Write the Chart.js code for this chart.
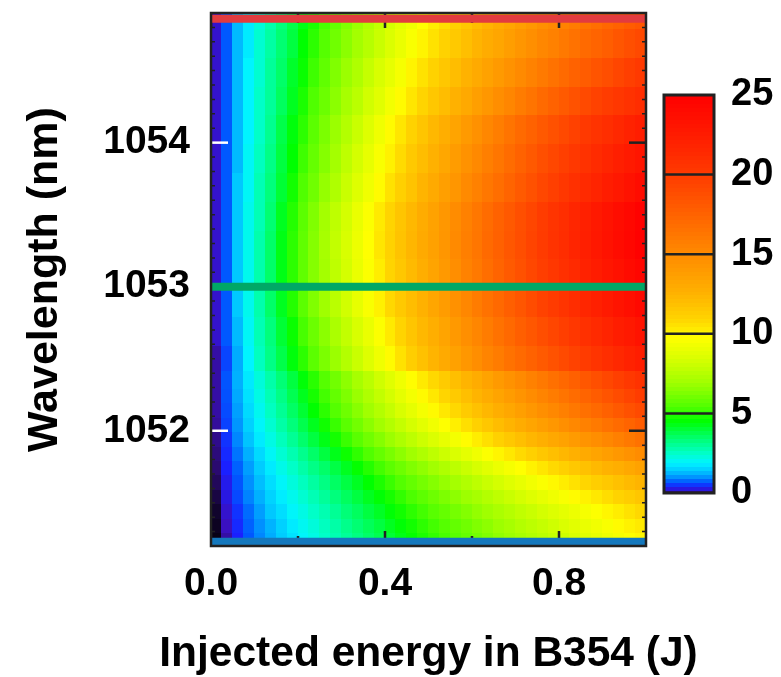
<!DOCTYPE html>
<html>
<head>
<meta charset="utf-8">
<script src="https://cdn.jsdelivr.net/npm/chart.js@4.4.1/dist/chart.umd.min.js"></script>
<style>
  html, body { margin: 0; padding: 0; background: #fff; }
  #wrap { position: relative; width: 781px; height: 677px; }
  #main { position: absolute; left: 0; top: 0; }
  #cbar { position: absolute; left: 640px; top: 60px; }
</style>
</head>
<body>
<div id="wrap">
  <canvas id="main" width="781" height="677"></canvas>
  <canvas id="cbar" width="141" height="470"></canvas>
</div>
<script>
// energia injetada (centro de cada coluna, J)
const energy = [0.0125, 0.0375, 0.0625, 0.0875, 0.1125, 0.1375, 0.1625, 0.1875, 0.2125, 0.2375,
  0.2625, 0.2875, 0.3125, 0.3375, 0.3625, 0.3875, 0.4125, 0.4375, 0.4625, 0.4875,
  0.5125, 0.5375, 0.5625, 0.5875, 0.6125, 0.6375, 0.6625, 0.6875, 0.7125, 0.7375,
  0.7625, 0.7875, 0.8125, 0.8375, 0.8625, 0.8875, 0.9125, 0.9375, 0.9625, 0.9875];

// comprimento de onda (centro de cada linha, nm), de baixo para cima
const wavelength = [1051.25, 1051.35, 1051.45, 1051.55, 1051.65, 1051.75, 1051.85, 1051.95, 1052.05, 1052.15,
  1052.25, 1052.35, 1052.5, 1052.7, 1052.9, 1053.1, 1053.3, 1053.5, 1053.7, 1053.9,
  1054.1, 1054.3, 1054.5, 1054.7, 1054.9];

// valores, uma linha por comprimento de onda
const signal = [
  [0.02, 0.2, 0.5, 0.8, 1.05, 1.3, 1.55, 1.8, 2.05, 2.3, 2.6, 2.85, 3.1, 3.35, 3.6, 3.85, 4.1, 4.4, 4.65, 4.9, 5.15, 5.4, 5.65, 5.9, 6.15, 6.4, 6.7, 6.95, 7.2, 7.45, 7.7, 7.95, 8.2, 8.5, 8.75, 9.0, 9.25, 9.5, 9.75, 10.0],
  [0.03, 0.25, 0.55, 0.85, 1.1, 1.35, 1.6, 1.9, 2.15, 2.4, 2.7, 2.95, 3.25, 3.5, 3.75, 4.0, 4.3, 4.55, 4.8, 5.1, 5.35, 5.6, 5.85, 6.1, 6.4, 6.65, 6.95, 7.2, 7.5, 7.75, 8.0, 8.25, 8.55, 8.85, 9.1, 9.35, 9.6, 9.9, 10.15, 10.4],
  [0.04, 0.3, 0.6, 0.9, 1.2, 1.5, 1.75, 2.05, 2.3, 2.6, 2.85, 3.15, 3.45, 3.7, 4.0, 4.25, 4.55, 4.8, 5.1, 5.35, 5.65, 5.9, 6.2, 6.45, 6.75, 7.0, 7.3, 7.55, 7.85, 8.1, 8.4, 8.65, 8.95, 9.2, 9.5, 9.75, 10.05, 10.3, 10.6, 10.9],
  [0.06, 0.38, 0.72, 1.03, 1.33, 1.62, 1.92, 2.2, 2.5, 2.8, 3.1, 3.4, 3.7, 4.0, 4.3, 4.55, 4.85, 5.15, 5.45, 5.75, 6.05, 6.35, 6.65, 6.95, 7.2, 7.5, 7.8, 8.1, 8.4, 8.7, 9.0, 9.3, 9.6, 9.9, 10.15, 10.45, 10.75, 11.05, 11.35, 11.65],
  [0.08, 0.42, 0.78, 1.1, 1.43, 1.75, 2.07, 2.38, 2.7, 3.02, 3.33, 3.65, 3.97, 4.28, 4.6, 4.92, 5.24, 5.55, 5.87, 6.19, 6.5, 6.82, 7.14, 7.46, 7.78, 8.1, 8.4, 8.72, 9.04, 9.36, 9.68, 10.0, 10.3, 10.6, 10.95, 11.27, 11.58, 11.9, 12.2, 12.5],
  [0.1, 0.5, 0.85, 1.2, 1.55, 1.9, 2.25, 2.6, 2.95, 3.3, 3.6, 3.95, 4.3, 4.65, 5.0, 5.35, 5.7, 6.05, 6.4, 6.7, 7.05, 7.4, 7.75, 8.1, 8.45, 8.8, 9.15, 9.5, 9.8, 10.15, 10.5, 10.85, 11.2, 11.55, 11.9, 12.25, 12.6, 12.9, 13.25, 13.6],
  [0.12, 0.55, 0.95, 1.33, 1.7, 2.1, 2.48, 2.85, 3.23, 3.6, 4.0, 4.37, 4.75, 5.13, 5.5, 5.9, 6.27, 6.65, 7.03, 7.4, 7.8, 8.17, 8.55, 8.93, 9.3, 9.7, 10.07, 10.45, 10.83, 11.2, 11.6, 11.97, 12.35, 12.73, 13.1, 13.5, 13.87, 14.25, 14.63, 15.0],
  [0.15, 0.6, 1.05, 1.47, 1.9, 2.3, 2.73, 3.15, 3.57, 4.0, 4.4, 4.83, 5.25, 5.67, 6.1, 6.5, 6.93, 7.35, 7.77, 8.2, 8.6, 9.03, 9.45, 9.87, 10.3, 10.7, 11.13, 11.55, 11.97, 12.4, 12.8, 13.23, 13.65, 14.07, 14.5, 14.9, 15.33, 15.75, 16.17, 16.6],
  [0.18, 0.68, 1.14, 1.6, 2.05, 2.5, 2.96, 3.41, 3.87, 4.32, 4.78, 5.23, 5.69, 6.14, 6.6, 7.05, 7.5, 7.96, 8.42, 8.87, 9.33, 9.78, 10.24, 10.7, 11.15, 11.6, 12.06, 12.5, 12.97, 13.42, 13.88, 14.33, 14.79, 15.24, 15.7, 16.15, 16.6, 17.06, 17.5, 17.97],
  [0.2, 0.73, 1.21, 1.7, 2.18, 2.67, 3.15, 3.64, 4.12, 4.6, 5.1, 5.58, 6.06, 6.55, 7.03, 7.52, 8.0, 8.49, 8.97, 9.46, 9.94, 10.43, 10.9, 11.4, 11.88, 12.37, 12.85, 13.34, 13.82, 14.3, 14.8, 15.28, 15.76, 16.25, 16.73, 17.2, 17.7, 18.19, 18.67, 19.15],
  [0.2, 0.76, 1.28, 1.79, 2.3, 2.8, 3.3, 3.83, 4.33, 4.85, 5.35, 5.86, 6.37, 6.88, 7.4, 7.9, 8.4, 8.92, 9.43, 9.94, 10.45, 10.96, 11.47, 11.98, 12.5, 13.0, 13.5, 14.0, 14.5, 15.0, 15.5, 16.0, 16.5, 17.0, 17.5, 18.0, 18.5, 19.0, 19.5, 20.0],
  [0.2, 0.78, 1.33, 1.87, 2.4, 2.93, 3.46, 4.0, 4.53, 5.06, 5.6, 6.12, 6.65, 7.18, 7.7, 8.25, 8.78, 9.3, 9.85, 10.38, 10.9, 11.44, 11.97, 12.5, 13.03, 13.56, 14.1, 14.6, 15.15, 15.68, 16.2, 16.73, 17.25, 17.77, 18.3, 18.8, 19.3, 19.8, 20.3, 20.8],
  [0.2, 0.7, 1.3, 2.0, 2.7, 3.3, 3.9, 4.5, 5.1, 5.7, 6.3, 6.9, 7.5, 8.1, 8.7, 9.3, 9.9, 10.6, 11.3, 11.9, 12.5, 13.1, 13.7, 14.3, 14.9, 15.5, 16.0, 16.6, 17.1, 17.6, 18.1, 18.6, 19.1, 19.6, 20.1, 20.6, 21.1, 21.6, 22.0, 22.4],
  [0.3, 0.8, 1.4, 2.1, 2.8, 3.4, 4.1, 4.7, 5.4, 6.0, 6.6, 7.3, 7.9, 8.5, 9.1, 9.7, 10.4, 11.0, 11.7, 12.3, 12.9, 13.5, 14.2, 14.8, 15.4, 16.0, 16.6, 17.2, 17.8, 18.3, 18.9, 19.4, 19.9, 20.4, 20.9, 21.4, 21.9, 22.4, 22.8, 23.3],
  [0.3, 0.8, 1.5, 2.2, 2.9, 3.6, 4.3, 5.0, 5.7, 6.4, 7.0, 7.7, 8.3, 9.0, 9.6, 10.2, 10.9, 11.5, 12.1, 12.7, 13.4, 14.0, 14.7, 15.3, 16.0, 16.6, 17.2, 17.8, 18.4, 19.0, 19.6, 20.1, 20.6, 21.2, 21.7, 22.2, 22.7, 23.2, 23.7, 24.2],
  [0.3, 0.8, 1.5, 2.2, 2.9, 3.6, 4.4, 5.1, 5.8, 6.5, 7.1, 7.8, 8.4, 9.1, 9.7, 10.3, 11.0, 11.6, 12.2, 12.9, 13.5, 14.2, 14.9, 15.6, 16.2, 16.9, 17.5, 18.1, 18.7, 19.3, 19.9, 20.4, 20.9, 21.4, 22.0, 22.5, 23.0, 23.5, 24.0, 24.5],
  [0.3, 0.8, 1.5, 2.2, 2.9, 3.6, 4.4, 5.1, 5.8, 6.5, 7.2, 7.9, 8.5, 9.2, 9.8, 10.5, 11.1, 11.8, 12.4, 13.1, 13.7, 14.4, 15.1, 15.8, 16.4, 17.1, 17.7, 18.3, 18.9, 19.5, 20.1, 20.7, 21.2, 21.8, 22.3, 22.9, 23.4, 23.9, 24.4, 24.9],
  [0.3, 0.8, 1.5, 2.2, 2.8, 3.5, 4.3, 5.0, 5.7, 6.4, 7.1, 7.8, 8.4, 9.1, 9.7, 10.4, 11.0, 11.7, 12.3, 13.0, 13.6, 14.3, 15.0, 15.7, 16.3, 17.0, 17.6, 18.2, 18.8, 19.4, 20.0, 20.6, 21.1, 21.7, 22.2, 22.8, 23.3, 23.8, 24.3, 24.8],
  [0.3, 0.8, 1.5, 2.1, 2.8, 3.4, 4.1, 4.8, 5.5, 6.1, 6.8, 7.4, 8.1, 8.7, 9.3, 9.9, 10.6, 11.2, 11.8, 12.5, 13.1, 13.8, 14.4, 15.1, 15.7, 16.3, 16.9, 17.5, 18.1, 18.7, 19.3, 19.8, 20.4, 20.9, 21.4, 21.9, 22.4, 22.9, 23.4, 23.9],
  [0.3, 0.8, 1.4, 2.1, 2.7, 3.3, 4.0, 4.6, 5.3, 5.9, 6.5, 7.1, 7.8, 8.4, 9.0, 9.6, 10.2, 10.8, 11.5, 12.1, 12.7, 13.3, 14.0, 14.6, 15.2, 15.8, 16.4, 17.0, 17.6, 18.2, 18.8, 19.3, 19.8, 20.3, 20.8, 21.3, 21.8, 22.3, 22.7, 23.1],
  [0.3, 0.8, 1.4, 2.0, 2.6, 3.2, 3.9, 4.5, 5.1, 5.7, 6.3, 6.9, 7.5, 8.1, 8.7, 9.3, 9.9, 10.5, 11.1, 11.7, 12.3, 12.9, 13.5, 14.1, 14.7, 15.3, 15.9, 16.5, 17.1, 17.6, 18.2, 18.7, 19.2, 19.7, 20.2, 20.7, 21.1, 21.6, 22.0, 22.4],
  [0.3, 0.8, 1.4, 2.0, 2.6, 3.1, 3.7, 4.3, 4.9, 5.5, 6.0, 6.6, 7.2, 7.7, 8.3, 8.8, 9.4, 9.9, 10.5, 11.0, 11.6, 12.1, 12.7, 13.2, 13.8, 14.3, 14.9, 15.4, 16.0, 16.5, 17.1, 17.6, 18.1, 18.6, 19.1, 19.6, 20.0, 20.4, 20.8, 21.2],
  [0.3, 0.8, 1.4, 2.0, 2.5, 3.1, 3.6, 4.2, 4.7, 5.3, 5.8, 6.4, 6.9, 7.4, 8.0, 8.5, 9.0, 9.5, 10.1, 10.6, 11.1, 11.6, 12.1, 12.6, 13.1, 13.6, 14.1, 14.6, 15.1, 15.6, 16.1, 16.6, 17.1, 17.6, 18.0, 18.5, 18.9, 19.4, 19.8, 20.2],
  [0.3, 0.8, 1.4, 1.9, 2.5, 3.0, 3.5, 4.0, 4.6, 5.1, 5.6, 6.1, 6.6, 7.1, 7.6, 8.1, 8.6, 9.1, 9.6, 10.1, 10.6, 11.1, 11.5, 12.0, 12.5, 13.0, 13.4, 13.9, 14.4, 14.8, 15.3, 15.7, 16.2, 16.6, 17.1, 17.5, 17.9, 18.4, 18.8, 19.2],
  [0.3, 0.8, 1.4, 1.9, 2.4, 2.9, 3.4, 3.9, 4.4, 4.9, 5.4, 5.9, 6.4, 6.9, 7.4, 7.9, 8.4, 8.9, 9.3, 9.8, 10.3, 10.7, 11.2, 11.6, 12.1, 12.5, 13.0, 13.4, 13.9, 14.3, 14.8, 15.2, 15.6, 16.0, 16.5, 16.9, 17.3, 17.6, 18.0, 18.3]
];

// linhas horizontais marcadas no grafico
const markerWavelengths = [1054.86, 1053.0, 1051.23];
const markerColors = ['#e23b3f', '#00a866', '#1478bd'];

// ticks
const xTicks = [0, 0.4, 0.8];
const xMinorTicks = [0.2, 0.6];
const yTicks = [1052, 1053, 1054];
const cbarTicks = [0, 5, 10, 15, 20, 25];

// mapa de cores (valor -> cor)
const colorStops = [
  [0, '#000000'], [0.1, '#2a0a70'], [0.25, '#3a10c0'], [0.5, '#1a20ff'], [0.8, '#0058ff'],
  [1.1, '#0090ff'], [1.5, '#00c8ff'], [2.0, '#00f4ff'], [2.6, '#00ffc8'], [3.2, '#00ff90'],
  [4.0, '#00ff40'], [4.6, '#00ff00'], [5.5, '#50ff00'], [7.0, '#a0ff00'], [8.5, '#d8ff00'],
  [9.8, '#ffff00'], [11, '#ffd400'], [12.5, '#ffb400'], [15, '#ff8c00'], [17.5, '#ff6400'],
  [20, '#ff3c00'], [22.5, '#ff1c00'], [25, '#ff0000']
];

function hexRgb(h) {
  return [parseInt(h.slice(1, 3), 16), parseInt(h.slice(3, 5), 16), parseInt(h.slice(5, 7), 16)];
}

function corDoValor(v) {
  if (v <= colorStops[0][0]) return colorStops[0][1];
  for (let i = 1; i < colorStops.length; i++) {
    if (v <= colorStops[i][0]) {
      const [v0, c0] = colorStops[i - 1];
      const [v1, c1] = colorStops[i];
      const t = (v - v0) / (v1 - v0);
      const a = hexRgb(c0), b = hexRgb(c1);
      return `rgb(${Math.round(a[0] + (b[0] - a[0]) * t)},${Math.round(a[1] + (b[1] - a[1]) * t)},${Math.round(a[2] + (b[2] - a[2]) * t)})`;
    }
  }
  return colorStops[colorStops.length - 1][1];
}

const familia = 'Liberation Sans, Arial, sans-serif';
const fonteTick = { family: familia, size: 39, weight: 'bold' };
const fonteTituloX = { family: familia, size: 42.5, weight: 'bold' };
const fonteTituloY = { family: familia, size: 43, weight: 'bold' };

// limites de cada celula = meio caminho entre centros vizinhos
function limites(lista, i) {
  const baixo = i > 0 ? (lista[i - 1] + lista[i]) / 2 : lista[i] - (lista[1] - lista[0]) / 2;
  const n = lista.length - 1;
  const cima = i < n ? (lista[i] + lista[i + 1]) / 2 : lista[i] + (lista[n] - lista[n - 1]) / 2;
  return [baixo, cima];
}

// desenha o mapa de calor e os ticks internos
const heatmapPlugin = {
  id: 'heatmap',
  beforeDatasetsDraw(chart) {
    const { ctx, chartArea, scales: { x, y } } = chart;
    ctx.save();
    ctx.beginPath();
    ctx.rect(chartArea.left, chartArea.top, chartArea.right - chartArea.left, chartArea.bottom - chartArea.top);
    ctx.clip();
    wavelength.forEach((lam, i) => {
      const [lb, lc] = limites(wavelength, i);
      const yTop = Math.floor(y.getPixelForValue(lc));
      const yBot = Math.ceil(y.getPixelForValue(lb));
      energy.forEach((e, j) => {
        const [eb, ec] = limites(energy, j);
        const x0 = Math.floor(x.getPixelForValue(eb));
        const x1 = Math.ceil(x.getPixelForValue(ec));
        ctx.fillStyle = corDoValor(signal[i][j]);
        ctx.fillRect(x0, yTop, x1 - x0 + 1, yBot - yTop + 1);
      });
    });

    // ticks do eixo x (para dentro, em cima e em baixo)
    ctx.strokeStyle = '#222';
    ctx.lineWidth = 2.5;
    xTicks.concat(xMinorTicks).forEach(v => {
      const px = x.getPixelForValue(v);
      const len = xTicks.includes(v) ? 15 : 10;
      ctx.beginPath();
      ctx.moveTo(px, chartArea.bottom); ctx.lineTo(px, chartArea.bottom - len);
      ctx.moveTo(px, chartArea.top); ctx.lineTo(px, chartArea.top + len);
      ctx.stroke();
    });
    // ticks menores do eixo y
    ctx.lineWidth = 1.5;
    for (let k = 13; k <= 48; k++) {
      const py = y.getPixelForValue(1050 + k / 10);
      ctx.beginPath();
      ctx.moveTo(chartArea.left, py); ctx.lineTo(chartArea.left + 4, py);
      ctx.moveTo(chartArea.right, py); ctx.lineTo(chartArea.right - 4, py);
      ctx.stroke();
    }
    // ticks maiores do eixo y
    ctx.lineWidth = 2.5;
    yTicks.forEach(v => {
      const py = y.getPixelForValue(v);
      ctx.strokeStyle = '#ffffff';
      ctx.beginPath();
      ctx.moveTo(chartArea.left, py); ctx.lineTo(chartArea.left + 17, py);
      ctx.stroke();
      ctx.strokeStyle = '#222';
      ctx.beginPath();
      ctx.moveTo(chartArea.right, py); ctx.lineTo(chartArea.right - 17, py);
      ctx.stroke();
    });
    ctx.restore();
  },
  afterDatasetsDraw(chart) {
    const { ctx, chartArea } = chart;
    ctx.save();
    ctx.strokeStyle = '#222';
    ctx.lineWidth = 2.5;
    ctx.strokeRect(chartArea.left, chartArea.top, chartArea.right - chartArea.left, chartArea.bottom - chartArea.top);
    ctx.restore();
  },
  afterDraw(chart) {
    // titulo do eixo x sem compressao horizontal
    const { ctx, chartArea } = chart;
    ctx.save();
    ctx.fillStyle = '#000';
    ctx.font = `bold ${fonteTituloX.size}px ${familia}`;
    ctx.textAlign = 'center';
    ctx.textBaseline = 'middle';
    ctx.fillText('Injected energy in B354 (J)', (chartArea.left + chartArea.right) / 2, 654);
    ctx.restore();
  }
};

const graficoMapa = new Chart(document.getElementById('main'), {
  type: 'scatter',
  data: {
    datasets: markerWavelengths.map((lam, i) => ({
      data: [{ x: 0, y: lam }, { x: 1, y: lam }],
      showLine: true,
      borderColor: markerColors[i],
      borderWidth: 8,
      borderCapStyle: 'butt',
      pointRadius: 0,
      clip: 0
    }))
  },
  options: {
    responsive: false,
    animation: false,
    devicePixelRatio: 1,
    layout: { padding: { top: 13, right: 135, left: 0, bottom: 0 } },
    plugins: { legend: { display: false }, tooltip: { enabled: false } },
    scales: {
      x: {
        type: 'linear',
        min: 0,
        max: 1,
        afterBuildTicks: s => { s.ticks = xTicks.map(v => ({ value: v })); },
        afterFit: s => { s.height = 131; s.paddingLeft = 0; s.paddingRight = 0; },
        grid: { display: false, drawTicks: false },
        border: { display: false },
        ticks: { color: '#000', font: fonteTick, padding: 15, callback: v => Number(v).toFixed(1) }
      },
      y: {
        type: 'linear',
        min: 1051.2,
        max: 1054.9,
        afterBuildTicks: s => { s.ticks = yTicks.map(v => ({ value: v })); },
        afterFit: s => { s.width = 211; s.paddingTop = 0; s.paddingBottom = 0; },
        grid: { display: false, drawTicks: false },
        border: { display: false },
        ticks: { color: '#000', font: fonteTick, padding: 21, callback: v => String(v) },
        title: { display: true, text: 'Wavelength (nm)', color: '#000', font: fonteTituloY, padding: { top: 19, bottom: 0 } }
      }
    }
  },
  plugins: [heatmapPlugin]
});

// barra de cores
const barraPlugin = {
  id: 'barra',
  beforeDatasetsDraw(chart) {
    const { ctx, chartArea, scales: { y } } = chart;
    const passo = 0.25;
    for (let v = 0; v < 25; v += passo) {
      const yTop = Math.floor(y.getPixelForValue(v + passo));
      const yBot = Math.ceil(y.getPixelForValue(v));
      ctx.fillStyle = corDoValor(v + passo / 2);
      ctx.fillRect(chartArea.left, yTop, chartArea.right - chartArea.left, yBot - yTop + 1);
    }
    ctx.save();
    ctx.strokeStyle = '#222';
    ctx.lineWidth = 2.5;
    cbarTicks.slice(1, -1).forEach(v => {
      const py = y.getPixelForValue(v);
      ctx.beginPath();
      ctx.moveTo(chartArea.left, py); ctx.lineTo(chartArea.right, py);
      ctx.stroke();
    });
    ctx.lineWidth = 3;
    ctx.strokeRect(chartArea.left, chartArea.top, chartArea.right - chartArea.left, chartArea.bottom - chartArea.top);
    ctx.restore();
  }
};

const graficoBarra = new Chart(document.getElementById('cbar'), {
  type: 'scatter',
  data: { datasets: [{ data: [] }] },
  options: {
    responsive: false,
    animation: false,
    devicePixelRatio: 1,
    layout: { padding: { top: 35, right: 7, left: 24, bottom: 37 } },
    plugins: { legend: { display: false }, tooltip: { enabled: false } },
    scales: {
      x: { display: false, min: 0, max: 1 },
      y: {
        position: 'right',
        min: 0,
        max: 25,
        afterBuildTicks: s => { s.ticks = cbarTicks.map(v => ({ value: v })); },
        afterFit: s => { s.width = 60; s.paddingTop = 0; s.paddingBottom = 0; },
        grid: { display: false, drawTicks: false },
        border: { display: false },
        ticks: { color: '#000', font: { family: familia, size: 38, weight: 'bold' }, padding: 17 }
      }
    }
  },
  plugins: [barraPlugin]
});
</script>
</body>
</html>
